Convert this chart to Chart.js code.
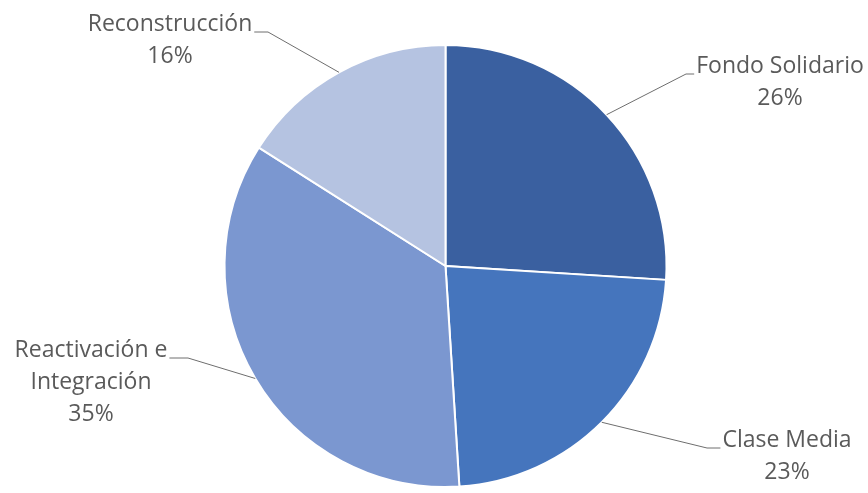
<!DOCTYPE html>
<html lang="es">
  <head>
    <meta charset="utf-8">
    <title>Distribución</title>
    <script src="https://cdn.jsdelivr.net/npm/chart.js@4/dist/chart.umd.min.js"></script>
    <style>
      html, body { margin: 0; padding: 0; background: #ffffff; }
      #wrap { width: 868px; height: 493px; }
    </style>
  </head>
  <body>
    <div id="wrap">
      <canvas id="myChart" width="868" height="493"></canvas>
    </div>
    <script>
      var categories = ['Fondo Solidario', 'Clase Media', 'Reactivación e Integración', 'Reconstrucción'];
      var values = [26, 23, 35, 16];
      // label lines as they wrap in the picture
      var labelLines = [['Fondo Solidario'], ['Clase Media'], ['Reactivación e', 'Integración'], ['Reconstrucción']];
      var colors = ['#3a60a0', '#4575bd', '#7b97d0', '#b5c3e1'];

      // label block: centre x, baseline of first line, leader elbow x
      var labelPos = [
        { x: 780, y: 73, elbowX: 686, side: 'left' },
        { x: 787, y: 447, elbowX: 707, side: 'left' },
        { x: 91, y: 357, elbowX: 188, side: 'right' },
        { x: 170, y: 31, elbowX: 268, side: 'right' }
      ];

      var FONT = '23px "Open Sans", Lato, sans-serif';
      var LINE_H = 32;

      var pieLabels = {
        id: 'pieLabels',
        afterDatasetsDraw: function(chart) {
          var ctx = chart.ctx;
          var meta = chart.getDatasetMeta(0);
          var total = values.reduce(function(a, b) { return a + b; }, 0);
          ctx.save();
          ctx.font = FONT;
          ctx.textAlign = 'center';
          ctx.textBaseline = 'alphabetic';
          for (var i = 0; i < meta.data.length; i++) {
            var arc = meta.data[i];
            var p = arc.getProps(['x', 'y', 'startAngle', 'endAngle', 'outerRadius'], true);
            var mid = (p.startAngle + p.endAngle) / 2;
            var ax = p.x + Math.cos(mid) * p.outerRadius;
            var ay = p.y + Math.sin(mid) * p.outerRadius;
            var lp = labelPos[i];
            var lines = labelLines[i].slice();
            lines.push(Math.round(values[i] / total * 100) + '%');

            ctx.fillStyle = '#5a5a5a';
            for (var j = 0; j < lines.length; j++) {
              ctx.fillText(lines[j], lp.x, lp.y + j * LINE_H);
            }

            // leader line starts at the end of the first line
            var w = ctx.measureText(lines[0]).width;
            var tx = lp.side === 'left' ? lp.x - w / 2 - 2 : lp.x + w / 2 + 2;
            var ty = lp.y + 1;
            ctx.strokeStyle = '#6e6e6e';
            ctx.lineWidth = 1;
            ctx.beginPath();
            ctx.moveTo(tx, ty);
            ctx.lineTo(lp.elbowX, ty);
            ctx.lineTo(ax, ay);
            ctx.stroke();
          }
          ctx.restore();
        }
      };

      var ctx = document.getElementById('myChart').getContext('2d');
      var myPieChart = new Chart(ctx, {
        type: 'pie',
        data: {
          labels: categories,
          datasets: [{
            data: values,
            backgroundColor: colors,
            borderColor: '#ffffff',
            borderWidth: 2
          }]
        },
        options: {
          responsive: false,
          animation: false,
          layout: { padding: { left: 223, right: 200, top: 44, bottom: 5 } },
          plugins: {
            legend: { display: false },
            tooltip: { enabled: false }
          }
        },
        plugins: [pieLabels]
      });
    </script>
  </body>
</html>
